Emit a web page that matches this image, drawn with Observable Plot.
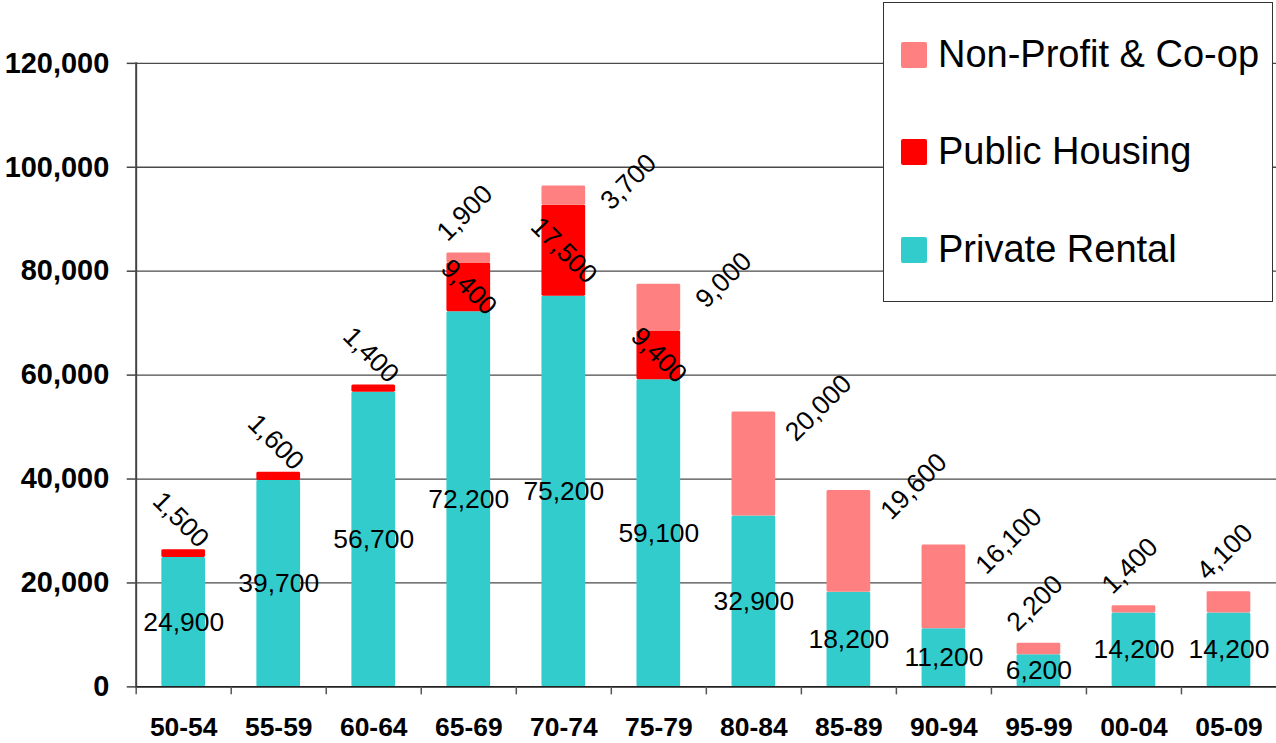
<!DOCTYPE html>
<html>
<head>
<meta charset="utf-8">
<script src="https://cdn.jsdelivr.net/npm/d3@7"></script>
<script src="https://cdn.jsdelivr.net/npm/@observablehq/plot@0.6"></script>
<style>
  html, body { margin: 0; padding: 0; background: #fff; overflow: hidden; width: 1276px; height: 743px; }
  #chart { position: relative; width: 1276px; height: 743px; overflow: hidden; }
  #chart svg { display: block; }
  #legend { position: absolute; left: 883px; top: 2px; width: 390px; height: 300px; box-sizing: border-box;
            border: 1.5px solid #333; background: #fff; font-family: "Liberation Sans", Arial, sans-serif; }
  .item { position: absolute; left: 17px; height: 40px; display: flex; align-items: center; font-size: 38px; color: #000; white-space: nowrap; }
  .sw { width: 26px; height: 26px; margin-right: 11px; border-radius: 2px; flex: none; }
</style>
</head>
<body>
<div id="chart"></div>
<script>
// ---- data ----
const periods = ["50-54", "55-59", "60-64", "65-69", "70-74", "75-79", "80-84", "85-89", "90-94", "95-99", "00-04", "05-09"];
const privateRental = [24900, 39700, 56700, 72200, 75200, 59100, 32900, 18200, 11200, 6200, 14200, 14200];
const publicHousing = [1500, 1600, 1400, 9400, 17500, 9400, 0, 0, 0, 0, 0, 0];
const nonProfit = [0, 0, 0, 1900, 3700, 9000, 20000, 19600, 16100, 2200, 1400, 4100];
const seriesNames = ["Private Rental", "Public Housing", "Non-Profit & Co-op"];
const seriesColors = ["#33CCCC", "#FF0000", "#FF8080"];
const yTicks = [0, 20000, 40000, 60000, 80000, 100000, 120000];
const legendOrder = ["Non-Profit & Co-op", "Public Housing", "Private Rental"];

// ---- build stacked table ----
const seriesValues = [privateRental, publicHousing, nonProfit];
const rows = [];
periods.forEach((p, i) => {
  let base = 0;
  seriesNames.forEach((s, k) => {
    const v = seriesValues[k][i];
    rows.push({period: p, series: s, value: v, y1: base, y2: base + v, last: i === periods.length - 1});
    base += v;
  });
});
const fmt = d3.format(",");
const nonzero = rows.filter(d => d.value > 0);
const priv = nonzero.filter(d => d.series === seriesNames[0]);
const pub = nonzero.filter(d => d.series === seriesNames[1]);
const np = nonzero.filter(d => d.series === seriesNames[2]);
const mid = d => (d.y1 + d.y2) / 2;

const W = 1279, H = 743, ML = 136, MR = 0, MT = 63, MB = 55;
const step = (W - ML - MR) / periods.length;
const font = "'Liberation Sans', Arial, sans-serif";
const labelSize = 26.5;

const chart = Plot.plot({
  width: W, height: H,
  marginLeft: ML, marginRight: MR, marginTop: MT, marginBottom: MB,
  style: {fontFamily: font, background: "#fff", color: "#000"},
  x: {domain: periods, paddingInner: 0.54, paddingOuter: 0.27, round: false, label: null},
  y: {domain: [0, 120000], label: null},
  color: {domain: seriesNames, range: seriesColors},
  marks: [
    Plot.gridY(yTicks.filter(t => t > 0), {stroke: "#4a4a4a", strokeOpacity: 1, strokeWidth: 1.3}),
    Plot.barY(nonzero, {x: "period", y1: "y1", y2: "y2", fill: "series", rx: 1.5}),
    Plot.frame({anchor: "left", stroke: "#444", strokeWidth: 2}),
    Plot.ruleY([0], {stroke: "#222", strokeWidth: 1.6}),
    Plot.axisY({ticks: yTicks, tickFormat: fmt, tickSize: 9, tickPadding: 18, fontSize: 29, fontWeight: "bold", stroke: "#444", strokeWidth: 1.5, label: null}),
    Plot.axisX({tickSize: 0, tickPadding: 30, fontSize: 26.5, fontWeight: "bold", label: null}),
    Plot.axisX({tickSize: 8, tickFormat: () => "", dx: -step / 2, stroke: "#555", strokeWidth: 1.5, label: null}),
    // Private rental labels: centred in segment
    Plot.text(priv, {x: "period", y: mid, text: d => fmt(d.value), fontSize: labelSize, fill: "#000"}),
    // Public housing labels: small segments above, large centred
    Plot.text(pub.filter(d => d.value < 5000), {x: "period", y: "y2", text: d => fmt(d.value), rotate: 45, dy: -30, dx: -3, fontSize: labelSize, fill: "#000"}),
    Plot.text(pub.filter(d => d.value >= 5000), {x: "period", y: mid, text: d => fmt(d.value), rotate: 45, fontSize: labelSize, fill: "#000"}),
    // Non-profit labels: small segments (or last bar) above, others right of bar top
    Plot.text(np.filter(d => d.value < 3000 || d.last), {x: "period", y: "y2", text: d => fmt(d.value), rotate: -45, dy: -40, dx: -4, fontSize: labelSize, fill: "#000"}),
    Plot.text(np.filter(d => !(d.value < 3000 || d.last)), {x: "period", y: "y2", text: d => fmt(d.value), rotate: -45, dx: 65, dy: -4, fontSize: labelSize, fill: "#000"})
  ]
});

const container = document.getElementById("chart");
container.appendChild(chart);

// ---- legend ----
const legend = document.createElement("div");
legend.id = "legend";
const centers = [53, 150, 248];
legendOrder.forEach((name, i) => {
  const item = document.createElement("div");
  item.className = "item";
  item.style.top = (centers[i] - 20 - 1.5) + "px";
  const sw = document.createElement("div");
  sw.className = "sw";
  sw.style.background = seriesColors[seriesNames.indexOf(name)];
  const tx = document.createElement("span");
  tx.textContent = name;
  item.appendChild(sw);
  item.appendChild(tx);
  legend.appendChild(item);
});
container.appendChild(legend);
</script>
</body>
</html>
